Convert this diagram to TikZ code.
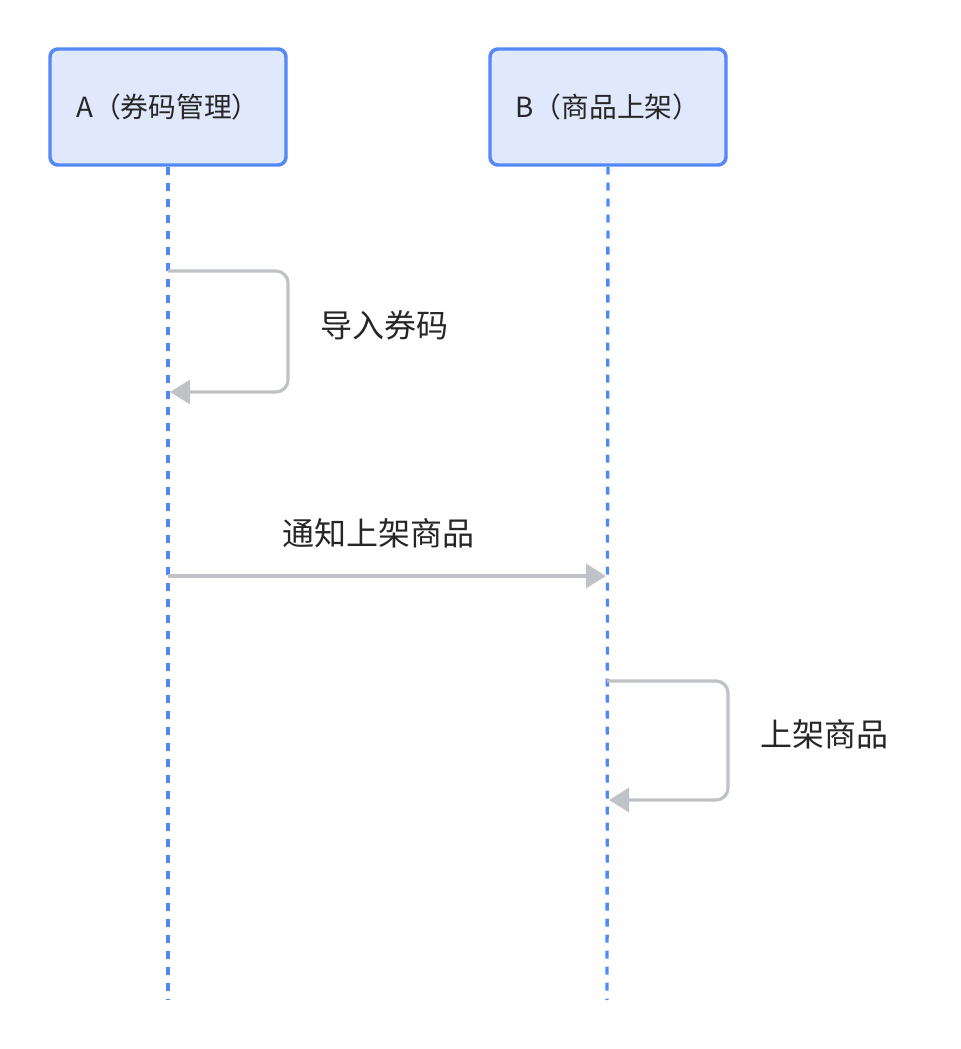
\documentclass[tikz,border=0pt]{standalone}
\usepackage{fontspec}
\setmainfont{Noto Sans CJK SC}
\usetikzlibrary{arrows.meta}

\definecolor{lineblue}{RGB}{82,136,247}
\definecolor{boxfill}{RGB}{224,232,252}
\definecolor{msggray}{RGB}{191,194,199}
\definecolor{txtdark}{RGB}{38,38,38}

\begin{document}
\begin{tikzpicture}[x=0.75pt, y=-0.75pt,
  actor/.style={draw=lineblue, line width=2.6pt, fill=boxfill, rounded corners=6pt,
                minimum width=177pt, minimum height=87pt, text=txtdark, font=\fontsize{20.8}{25}\selectfont},
  lifeline/.style={lineblue, line width=2.5pt, dash pattern=on 6pt off 6pt},
  msg/.style={msggray, line width=2.4pt, rounded corners=9pt,
              -{Triangle[length=15pt, width=18pt]}},
  msglabel/.style={text=txtdark, font=\fontsize{24}{28}\selectfont}]
\useasboundingbox (0,0) rectangle (960,1049);

% actors
\node[actor] (A) at (168,107) {A（券码管理）};
\node[actor] (B) at (608,107) {B（商品上架）};

% lifelines
\coordinate (Aend) at (168,1000);
\coordinate (Bend) at (607,1000);
\draw[lifeline] (A.south) -- (Aend);
\draw[lifeline] (B.south) -- (Bend);

% -------- messages --------
% A self
\coordinate (m1s) at (168,271);
\coordinate (m1e) at (170,392);
\draw[msg] (m1s) -- ++(120,0) |- (m1e);
\node[msglabel] (l1) at (384,325) {导入券码};

% A -> B
\coordinate (m2s) at (168,576);
\coordinate (m2e) at (606,576);
\draw[msg] (m2s) -- (m2e);
\node[msglabel] (l2) at (378,533) {通知上架商品};

% B self
\coordinate (m3s) at (607,681);
\coordinate (m3e) at (609,800);
\draw[msg] (m3s) -- ++(121,0) |- (m3e);
\node[msglabel] (l3) at (824,734) {上架商品};
\end{tikzpicture}
\end{document}
